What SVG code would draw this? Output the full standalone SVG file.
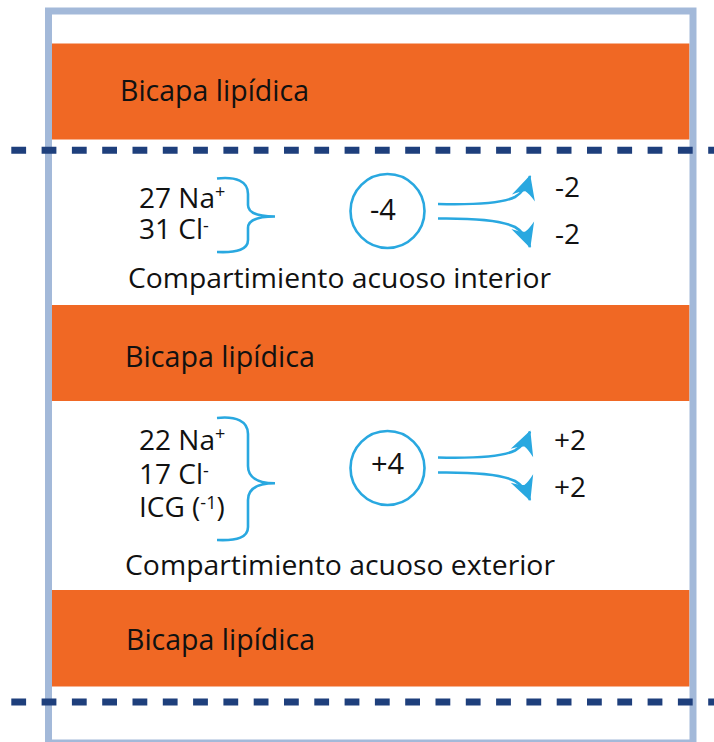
<svg xmlns="http://www.w3.org/2000/svg" width="714" height="742" viewBox="0 0 714 742">
<style>
.band{fill:#F06824}
.frame{fill:none;stroke:#A3B9D9;stroke-width:7}
.dash{stroke:#1E3F7C;stroke-width:7;stroke-dasharray:14.8 15.5}
.cy{fill:none;stroke:#29A8E0;stroke-width:2.6}
.t{font-family:"Open Sans","Noto Sans",sans-serif;font-size:28px;fill:#111}
.b{font-family:"Open Sans","Noto Sans",sans-serif;font-size:30px;fill:#111}
.sup{font-size:18px}
</style>
<defs>
<marker id="ah" markerUnits="userSpaceOnUse" viewBox="-26 -14 28 28" markerWidth="28" markerHeight="28" refX="0" refY="0" orient="auto">
<path d="M1,0 L-23,-12 Q-17,-4 -16,0 Q-17,4 -23,12 Z" fill="#29A8E0"/>
</marker>
</defs>
<rect width="714" height="742" fill="#fff"/>
<g id="band1"><rect class="band" x="52" y="43.5" width="637.5" height="96"/><text class="b" x="120" y="101" textLength="189" lengthAdjust="spacingAndGlyphs">Bicapa lipídica</text></g>
<g id="band2"><rect class="band" x="52" y="305" width="637.5" height="96"/><text class="b" x="125" y="367" textLength="190" lengthAdjust="spacingAndGlyphs">Bicapa lipídica</text></g>
<g id="band3"><rect class="band" x="52" y="590" width="637.5" height="96.5"/><text class="b" x="126" y="650" textLength="189" lengthAdjust="spacingAndGlyphs">Bicapa lipídica</text></g>
<g id="frame"><rect class="frame" x="48.5" y="11" width="644.5" height="732"/></g>
<g id="membranes"><line class="dash" x1="11.3" y1="150.3" x2="714" y2="150.3"/><line class="dash" x1="11.3" y1="702" x2="714" y2="702"/></g>
<g id="interior-ions">
<text class="t" x="139" y="207.5">27 Na<tspan class="sup" dy="-10">+</tspan></text>
<text class="t" x="139" y="238.5">31 Cl<tspan class="sup" dy="-7">-</tspan></text>
</g>
<g id="interior-charge"><circle class="cy" cx="387.5" cy="211" r="37"/><text class="t" x="383" y="220" text-anchor="middle" style="font-size:29px">-4</text></g>
<g id="interior-labels">
<text class="t" x="555" y="197">-2</text>
<text class="t" x="555" y="243.5">-2</text>
<text class="t" x="128" y="288" textLength="423" lengthAdjust="spacingAndGlyphs">Compartimiento acuoso interior</text>
</g>
<g id="exterior-ions">
<text class="t" x="139" y="450">22 Na<tspan class="sup" dy="-10">+</tspan></text>
<text class="t" x="139" y="483.5">17 Cl<tspan class="sup" dy="-7">-</tspan></text>
<text class="t" x="139" y="517">ICG (<tspan class="sup" dy="-8">-1</tspan><tspan dy="8">)</tspan></text>
</g>
<g id="exterior-charge"><circle class="cy" cx="387.5" cy="468" r="37"/><text class="t" x="387.5" y="474" text-anchor="middle" style="font-size:29px">+4</text></g>
<g id="exterior-labels">
<text class="t" x="554" y="450">+2</text>
<text class="t" x="554" y="497">+2</text>
<text class="t" x="125" y="575" textLength="430" lengthAdjust="spacingAndGlyphs">Compartimiento acuoso exterior</text>
</g>
<g id="connectors" class="cy">
<path d="M217,178.5 C236,176.5 248,181 248,194 L248,205 C248,212 256,216.5 275,216.5 C256,216.5 248,221 248,228 L248,240 C248,249 238,253 217,252"/>
<path d="M217,418 C236,416 248,421 248,434 L248,466 C248,476 256,483.3 275,483.3 C256,483.3 248,490 248,500 L248,527 C248,537 238,541 217,540"/>
<path d="M438,204 C478,205 503,203 515,197 C522,193 527,186 530,176" marker-end="url(#ah)"/>
<path d="M438,218.5 C478,218 503,221 515,227 C522,231 527,238 530,247" marker-end="url(#ah)"/>
<path d="M438,457.5 C478,458.5 503,456.5 515,450.5 C522,446.5 527,439.5 530,431.5" marker-end="url(#ah)"/>
<path d="M438,472.5 C478,472 503,475 515,481 C522,485 527,492 530,500" marker-end="url(#ah)"/>
</g>
</svg>
